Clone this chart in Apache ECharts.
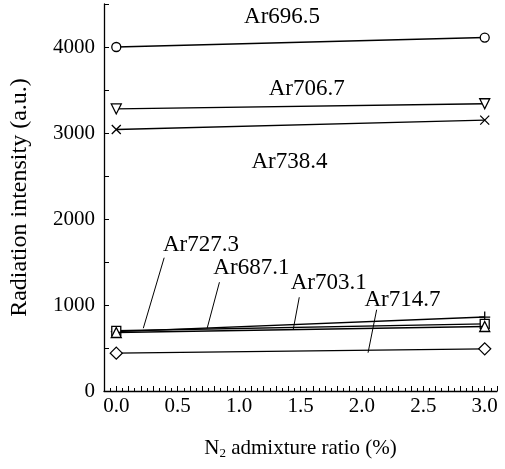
<!DOCTYPE html>
<html>
  <head>
    <meta charset="utf-8" />
    <script src="https://cdn.jsdelivr.net/npm/echarts@6.0.0/dist/echarts.min.js"></script>
  </head>
  <body style="margin:0">
    <div id="main" style="width: 505px; height: 469px"></div>

    <script type="text/javascript">
      // N2 admixture ratio (%)
      var ratio = [0.0, 3.0];

      // line names and intensities at each ratio
      var names = ["Ar696.5", "Ar706.7", "Ar738.4", "Ar727.3", "Ar687.1", "Ar703.1", "Ar714.7"];
      var ar6965 = [4000, 4110];
      var ar7067 = [3280, 3340];
      var ar7384 = [3040, 3150];
      var ar7273 = [690, 860];
      var ar6871 = [700, 780];
      var ar7031 = [680, 750];
      var ar7147 = [440, 490];

      // annotations: text position and leader line (data coords)
      var labelPos = [[1.35, 4350], [1.55, 3510], [1.41, 2665], [0.69, 1700], [1.1, 1430], [1.73, 1255], [2.33, 1060]];
      var leaderFrom = [null, null, null, [0.39, 1550], [0.84, 1265], [1.49, 1090], [2.12, 945]];
      var leaderTo = [null, null, null, [0.22, 730], [0.74, 730], [1.44, 710], [2.05, 445]];

      var cross = "path://M0,0L10,10M10,0L0,10";
      var plus = "path://M5,0L5,10M0,5L10,5";

      var symbols = [
        { s: "circle", size: 9, rot: 0 },
        { s: "triangle", size: 10, rot: 180 },
        { s: cross, size: 9, rot: 0 },
        { s: plus, size: 11, rot: 0 },
        { s: "rect", size: 9, rot: 0 },
        { s: "triangle", size: 10, rot: 0 },
        { s: "diamond", size: 12, rot: 0 },
      ];
      var values = [ar6965, ar7067, ar7384, ar7273, ar6871, ar7031, ar7147];

      var myChart = echarts.init(document.getElementById("main"));
      var font = "Liberation Serif";

      var series = values.map(function (v, i) {
        return {
          name: names[i],
          type: "line",
          data: ratio.map(function (x, j) { return [x, v[j]]; }),
          symbol: symbols[i].s,
          symbolSize: symbols[i].size,
          symbolRotate: symbols[i].rot,
          showAllSymbol: true,
          lineStyle: { color: "#000", width: 1.4 },
          itemStyle: { color: "#fff", borderColor: "#000", borderWidth: 1.3 },
          z: 3 + i,
        };
      });

      var option = {
        animation: false,
        backgroundColor: "#fff",
        grid: { left: 102, right: 8, top: 4, bottom: 78 },
        xAxis: {
          type: "value",
          min: -0.1,
          max: 3.1,
          interval: 0.1,
          name: "N{sub|2} admixture ratio (%)",
          nameLocation: "middle",
          nameGap: 46,
          nameTextStyle: {
            fontFamily: font, fontSize: 21, color: "#000",
            rich: { sub: { fontFamily: font, fontSize: 13, color: "#000", verticalAlign: "bottom", padding: [10, 0, 0, 0] } },
          },
          axisLine: { onZero: false, lineStyle: { color: "#000", width: 1.3 } },
          axisTick: { inside: true, length: 5, lineStyle: { color: "#000" } },
          minorTick: { show: true, splitNumber: 2, length: 3, lineStyle: { color: "#000" } },
          splitLine: { show: false },
          axisLabel: {
            fontFamily: font, fontSize: 21, color: "#000", margin: 5,
            formatter: function (v) {
              var k = v * 2;
              if (v > -0.01 && v < 3.01 && Math.abs(k - Math.round(k)) < 1e-6) return v.toFixed(1);
              return "";
            },
          },
        },
        yAxis: {
          type: "value",
          min: 0,
          max: 4500,
          interval: 500,
          name: "Radiation intensity (a.u.)",
          nameLocation: "middle",
          nameGap: 72,
          nameTextStyle: { fontFamily: font, fontSize: 24, color: "#000" },
          axisLine: { show: true, onZero: false, lineStyle: { color: "#000", width: 1.3 } },
          axisTick: { inside: true, length: 5, lineStyle: { color: "#000" } },
          splitLine: { show: false },
          axisLabel: {
            fontFamily: font, fontSize: 21, color: "#000", margin: 9,
            formatter: function (v) { return v % 1000 === 0 ? String(v) : ""; },
          },
        },
        series: series,
      };

      myChart.setOption(option);

      // annotations placed through the chart's own scales
      var graphics = [];
      names.forEach(function (n, i) {
        var p = myChart.convertToPixel({ gridIndex: 0 }, labelPos[i]);
        graphics.push({
          type: "text",
          x: p[0], y: p[1],
          style: { text: n, fill: "#000", font: "23px " + font, textAlign: "center", textVerticalAlign: "middle" },
          z: 20,
        });
        if (leaderFrom[i]) {
          var a = myChart.convertToPixel({ gridIndex: 0 }, leaderFrom[i]);
          var b = myChart.convertToPixel({ gridIndex: 0 }, leaderTo[i]);
          graphics.push({
            type: "line",
            shape: { x1: a[0], y1: a[1], x2: b[0], y2: b[1] },
            style: { stroke: "#000", lineWidth: 1 },
            z: 20,
          });
        }
      });
      myChart.setOption({ graphic: graphics });
    </script>
  </body>
</html>
